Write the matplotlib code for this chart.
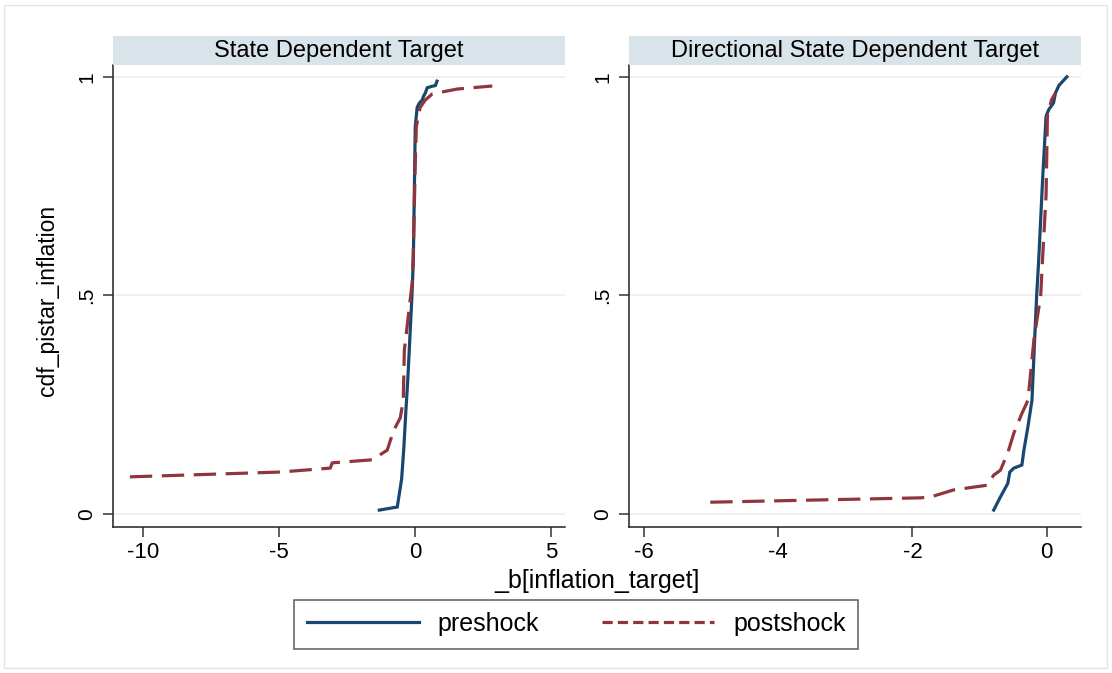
import matplotlib.pyplot as plt
from matplotlib.patches import Rectangle
from matplotlib.lines import Line2D

plt.rcParams['font.family'] = ['Liberation Sans', 'DejaVu Sans']

# State Dependent Target
sd_pre_x = [-1.32, -0.66, -0.6, -0.5, -0.42, -0.35, -0.28, -0.2, -0.12, -0.07,
            -0.03, 0.0, 0.07, 0.15, 0.26, 0.3, 0.37, 0.44, 0.6, 0.74, 0.8]
sd_pre_y = [0.009, 0.016, 0.04, 0.08, 0.15, 0.23, 0.3, 0.4, 0.5, 0.58,
            0.75, 0.886, 0.93, 0.94, 0.947, 0.955, 0.963, 0.975, 0.978, 0.98, 0.99]
sd_post_x = [-10.48, -4.96, -3.12, -3.05, -1.58, -1.03, -0.8, -0.55, -0.44, -0.4,
             -0.26, -0.11, -0.07, 0.0, 0.04, 0.18, 0.37, 0.63, 1.54, 2.83]
sd_post_y = [0.085, 0.096, 0.105, 0.117, 0.124, 0.146, 0.19, 0.22, 0.26, 0.375,
             0.45, 0.53, 0.6, 0.8, 0.886, 0.93, 0.947, 0.961, 0.972, 0.979]

# Directional State Dependent Target
dsd_pre_x = [-0.79, -0.69, -0.58, -0.55, -0.49, -0.37, -0.34, -0.28, -0.24, -0.22,
             -0.18, -0.15, -0.12, -0.06, -0.01, 0.03, 0.1, 0.13, 0.18, 0.3]
dsd_pre_y = [0.009, 0.039, 0.07, 0.096, 0.105, 0.112, 0.146, 0.2, 0.24, 0.26,
             0.4, 0.5, 0.58, 0.77, 0.91, 0.925, 0.94, 0.963, 0.98, 1.0]
dsd_post_x = [-5.01, -1.88, -1.73, -1.39, -0.88, -0.79, -0.69, -0.58, -0.49, -0.37,
              -0.28, -0.19, -0.09, -0.06, -0.01, 0.01, 0.07, 0.13]
dsd_post_y = [0.027, 0.037, 0.039, 0.055, 0.066, 0.089, 0.1, 0.14, 0.185, 0.23,
              0.26, 0.4, 0.5, 0.59, 0.73, 0.91, 0.947, 0.963]

titles = ["State Dependent Target", "Directional State Dependent Target"]
xticks = [[-10, -5, 0, 5], [-6, -4, -2, 0]]
xlims = [(-11.1, 5.5), (-6.22, 0.51)]
panels = [(sd_pre_x, sd_pre_y, sd_post_x, sd_post_y),
          (dsd_pre_x, dsd_pre_y, dsd_post_x, dsd_post_y)]

navy = "#1a476f"
maroon = "#90353b"
grid_col = "#e8eff2"
strip_col = "#d9e4ea"

fig = plt.figure(figsize=(11.12, 6.73), dpi=100)
W, H = 1112, 673

# light frame around the graph region
fig.patches.append(Rectangle((4 / W, 1 - 668 / H), 1103 / W, 663 / H,
                             transform=fig.transFigure, fill=False,
                             edgecolor="#e4e4e4", linewidth=1))

lefts = [113, 629]
for i in range(2):
    l = lefts[i]
    ax = fig.add_axes([l / W, 1 - 527 / H, 452 / W, 462 / H])
    px, py, qx, qy = panels[i]
    ax.plot(px, py, color=navy, linewidth=2.3, solid_joinstyle="miter")
    ax.plot(qx, qy, color=maroon, linewidth=2.3, linestyle=(0, (7, 3)))
    ax.set_xlim(*xlims[i])
    ax.set_ylim(-0.0297, 1.027)
    ax.set_xticks(xticks[i])
    ax.set_xticklabels([str(t) for t in xticks[i]])
    ax.set_yticks([0, 0.5, 1])
    ax.set_yticklabels(["0", ".5", "1"], rotation=90, va="center")
    ax.grid(axis="y", color=grid_col, linewidth=1.2)
    ax.set_axisbelow(True)
    for s in ["top", "right"]:
        ax.spines[s].set_visible(False)
    for s in ["left", "bottom"]:
        ax.spines[s].set_color("#222222")
        ax.spines[s].set_linewidth(1.1)
    ax.tick_params(axis="x", length=7, width=1.1, color="#333333", labelsize=16, pad=4)
    ax.tick_params(axis="y", length=7, width=1.1, color="#333333", labelsize=15, pad=5)

    # header strip
    hx = fig.add_axes([l / W, 1 - 65 / H, 452 / W, 29 / H])
    hx.set_facecolor(strip_col)
    hx.set_xticks([])
    hx.set_yticks([])
    for s in hx.spines.values():
        s.set_visible(False)
    hx.text(0.5, 0.47, titles[i], ha="center", va="center", fontsize=17,
            transform=hx.transAxes)

fig.text(597 / W, 1 - 581 / H, "_b[inflation_target]", ha="center", va="center",
         fontsize=18)
fig.text(48 / W, 1 - 300 / H, "cdf_pistar_inflation", ha="center", va="center",
         rotation=90, fontsize=16.5)

handles = [Line2D([], [], color=navy, linewidth=2.3),
           Line2D([], [], color=maroon, linewidth=2.3, linestyle=(0, (3.2, 1.6)))]
leg = fig.legend(handles, ["preshock", "postshock"], loc="center",
                 bbox_to_anchor=(576 / W, 1 - 624 / H), ncol=2, fontsize=18,
                 frameon=True, fancybox=False, edgecolor="#333333",
                 handlelength=4.5, columnspacing=2.5, handletextpad=0.75,
                 borderpad=0.5)
leg.get_frame().set_linewidth(1.1)

fig.savefig("out.png", dpi=100)
